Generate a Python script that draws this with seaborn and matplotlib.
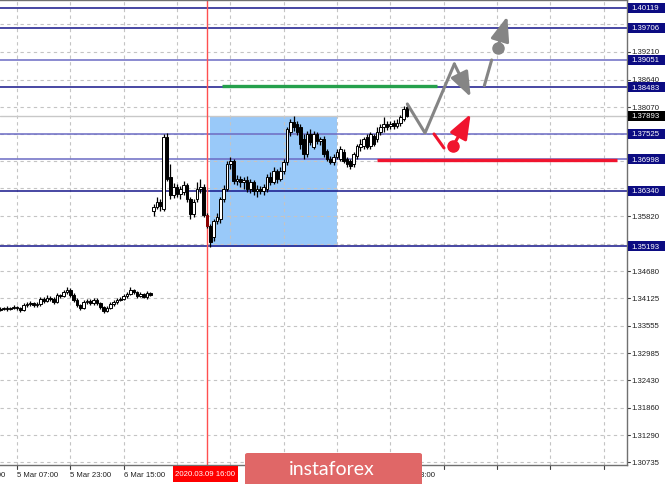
import numpy as np
import pandas as pd
import matplotlib
matplotlib.use("Agg")
import matplotlib.pyplot as plt
import seaborn as sns
from matplotlib.patches import Rectangle, FancyBboxPatch

sns.set_style("white")
plt.rcParams['font.family'] = ['Liberation Sans', 'DejaVu Sans']

# ---------------- data (H1 bars, index = bar number) ----------------
OPEN = [1.3388,1.3390,1.3392,1.3390,1.3392,1.3394,1.3392,1.3388,1.3398,1.3400,
        1.3402,1.3398,1.3400,1.3411,1.3407,1.3413,1.3411,1.3405,1.3419,1.3417,
        1.3425,1.3429,1.3419,1.3409,1.3398,1.3392,1.3405,1.3407,1.3402,1.3409,
        1.3402,1.3394,1.3386,1.3392,1.3400,1.3405,1.3409,1.3411,1.3417,1.3421,
        1.3429,1.3425,1.3417,1.3421,1.3415,1.3423,
        1.3593,1.3601,1.3611,1.3597,1.3745,1.3663,1.3626,1.3642,1.3628,1.3632,
        1.3646,1.3617,1.3586,1.3617,1.3638,1.3642,1.3584,1.3562,1.3539,1.3572,
        1.3576,1.3617,1.3638,1.3690,1.3696,1.3654,1.3659,1.3652,1.3657,1.3638,
        1.3652,1.3634,1.3638,1.3634,1.3638,1.3663,1.3652,1.3675,1.3659,1.3675,
        1.3694,1.3756,1.3776,1.3772,1.3766,1.3741,1.3710,1.3752,1.3725,1.3752,
        1.3737,1.3741,1.3716,1.3700,1.3694,1.3704,1.3700,1.3714,1.3700,1.3696,
        1.3690,1.3706,1.3725,1.3727,1.3745,1.3727,1.3747,1.3741,1.3756,1.3766,
        1.3772,1.3768,1.3774,1.3768,1.3774,1.3783,1.3807]
HIGH = [1.3394,1.3395,1.3396,1.3395,1.3398,1.3397,1.3395,1.3402,1.3404,1.3406,
        1.3405,1.3404,1.3415,1.3414,1.3418,1.3416,1.3414,1.3424,1.3422,1.3430,
        1.3435,1.3433,1.3423,1.3412,1.3401,1.3409,1.3411,1.3410,1.3413,1.3412,
        1.3405,1.3397,1.3396,1.3404,1.3408,1.3413,1.3414,1.3421,1.3425,1.3435,
        1.3432,1.3428,1.3425,1.3424,1.3427,1.3426,
        1.3607,1.3621,1.3617,1.3752,1.3754,1.3690,1.3650,1.3648,1.3644,1.3654,
        1.3650,1.3621,1.3617,1.3652,1.3659,1.3648,1.3588,1.3566,1.3576,1.3588,
        1.3621,1.3646,1.3696,1.3704,1.3700,1.3667,1.3665,1.3663,1.3665,1.3659,
        1.3657,1.3646,1.3644,1.3648,1.3669,1.3673,1.3683,1.3679,1.3683,1.3700,
        1.3766,1.3783,1.3789,1.3778,1.3772,1.3752,1.3758,1.3762,1.3758,1.3756,
        1.3745,1.3747,1.3721,1.3706,1.3710,1.3721,1.3727,1.3721,1.3704,1.3700,
        1.3714,1.3731,1.3741,1.3745,1.3752,1.3756,1.3752,1.3766,1.3772,1.3787,
        1.3778,1.3778,1.3781,1.3783,1.3791,1.3809,1.3814]
LOW = [1.3385,1.3387,1.3386,1.3387,1.3389,1.3388,1.3384,1.3386,1.3395,1.3397,
       1.3394,1.3395,1.3397,1.3403,1.3404,1.3407,1.3401,1.3402,1.3413,1.3414,
       1.3421,1.3415,1.3405,1.3394,1.3388,1.3389,1.3401,1.3399,1.3398,1.3398,
       1.3390,1.3382,1.3383,1.3389,1.3396,1.3401,1.3406,1.3408,1.3413,1.3418,
       1.3421,1.3413,1.3414,1.3412,1.3411,1.3416,
       1.3582,1.3597,1.3593,1.3593,1.3654,1.3617,1.3619,1.3621,1.3617,1.3626,
       1.3611,1.3576,1.3580,1.3611,1.3630,1.3580,1.3557,1.3518,1.3531,1.3566,
       1.3568,1.3611,1.3634,1.3679,1.3648,1.3646,1.3642,1.3638,1.3632,1.3630,
       1.3626,1.3621,1.3628,1.3626,1.3632,1.3646,1.3648,1.3650,1.3654,1.3669,
       1.3688,1.3747,1.3758,1.3750,1.3721,1.3700,1.3704,1.3729,1.3721,1.3731,
       1.3729,1.3704,1.3696,1.3690,1.3688,1.3700,1.3696,1.3692,1.3683,1.3679,
       1.3683,1.3700,1.3716,1.3721,1.3721,1.3721,1.3727,1.3735,1.3750,1.3756,
       1.3760,1.3762,1.3762,1.3764,1.3768,1.3778,1.3787]
CLOSE = [1.3390,1.3392,1.3390,1.3392,1.3394,1.3392,1.3388,1.3398,1.3400,1.3402,
         1.3398,1.3400,1.3411,1.3407,1.3413,1.3411,1.3405,1.3419,1.3417,1.3425,
         1.3429,1.3419,1.3409,1.3398,1.3392,1.3405,1.3407,1.3402,1.3409,1.3402,
         1.3394,1.3386,1.3392,1.3400,1.3405,1.3409,1.3411,1.3417,1.3421,1.3429,
         1.3425,1.3417,1.3421,1.3415,1.3423,1.3419,
         1.3601,1.3611,1.3603,1.3745,1.3659,1.3626,1.3642,1.3628,1.3638,1.3646,
         1.3617,1.3586,1.3611,1.3638,1.3642,1.3584,1.3562,1.3528,1.3572,1.3580,
         1.3617,1.3638,1.3690,1.3696,1.3654,1.3659,1.3652,1.3657,1.3638,1.3652,
         1.3634,1.3638,1.3634,1.3642,1.3663,1.3652,1.3675,1.3659,1.3675,1.3694,
         1.3762,1.3776,1.3766,1.3756,1.3731,1.3710,1.3752,1.3735,1.3752,1.3737,
         1.3741,1.3710,1.3700,1.3694,1.3704,1.3714,1.3721,1.3696,1.3690,1.3685,
         1.3710,1.3727,1.3731,1.3741,1.3725,1.3752,1.3731,1.3756,1.3766,1.3772,
         1.3766,1.3772,1.3768,1.3774,1.3787,1.3803,1.37893]

HIGHLIGHT_BAR = 62           # bar under the vertical red line (9 Mar 16:00)
NAVY_LEVELS = [1.40119, 1.39706, 1.38483, 1.36340, 1.35193]
LIGHT_LEVELS = [1.39051, 1.37525, 1.36998]
BID = 1.37893
GRID_PRICES = [1.30735, 1.31290, 1.31860, 1.32430, 1.32985, 1.33555, 1.34125,
               1.34680, 1.35250, 1.35820, 1.36390, 1.36960, 1.37510, 1.38070,
               1.38640, 1.39210, 1.39780]
PRICE_LABELS = ["1.39210", "1.38640", "1.38070", "1.35820", "1.34680", "1.34125",
                "1.33555", "1.32985", "1.32430", "1.31860", "1.31290", "1.30735"]
TIME_POS = [-11, 5, 21, 37, 117]
TIME_LABELS = ["4 Mar 15:00", "5 Mar 07:00", "5 Mar 23:00", "6 Mar 15:00",
               "11 Mar 23:00"]
GRID_BARS = [5, 21, 37, 53, 69, 85, 101, 117, 133, 149, 165, 181]
CROSS_LABEL = "2020.03.09 16:00"

# range box and forecast marks
RANGE_BARS = [63, 101]
RANGE_PRICES = [1.35181, 1.37888]
GREEN_BARS, GREEN_PRICE = [66.5, 131], 1.38500
RED_BARS, RED_PRICE = [113, 185], 1.36970
GRAY_PATH_X = [122.1, 127.4, 136.2]
GRAY_PATH_Y = [1.38136, 1.37537, 1.38962]
GRAY_ARROW1 = [(136.2, 1.38962), (141.1, 1.38280)]
GRAY_LINE2_X = [145.2, 147.4]
GRAY_LINE2_Y = [1.38514, 1.39045]
GRAY_DOT = (149.2, 1.39293)
GRAY_ARROW2 = [(149.2, 1.39293), (152.1, 1.39948)]
RED_LINE_X = [130.1, 133.1]
RED_LINE_Y = [1.37516, 1.37227]
RED_DOT = (135.9, 1.37274)
RED_ARROW = [(135.9, 1.37274), (141.1, 1.37929)]

# ---------------- figure ----------------
W, H = 665, 485
fig = plt.figure(figsize=(W / 100, H / 100), dpi=100)
fig.patch.set_facecolor("white")
ax = fig.add_axes([0, 19 / H, 627 / W, 465 / H])
XLIM = (-0.1, 188.0)
YLIM = (1.30677, 1.40284)
ax.set_xlim(*XLIM)
ax.set_ylim(*YLIM)
ppx = (YLIM[1] - YLIM[0]) / 465.0   # price per pixel

df = pd.DataFrame({"bar": np.arange(len(OPEN)), "o": OPEN, "h": HIGH,
                   "l": LOW, "c": CLOSE})

grid_kw = dict(color="#c4c4c4", lw=0.8, linestyles=(0, (3, 3)), zorder=1)
ax.vlines(GRID_BARS, YLIM[0], YLIM[1], **grid_kw)
ax.hlines(GRID_PRICES, XLIM[0], XLIM[1], **grid_kw)

ax.add_patch(Rectangle((RANGE_BARS[0], RANGE_PRICES[0]),
                       RANGE_BARS[1] - RANGE_BARS[0],
                       RANGE_PRICES[1] - RANGE_PRICES[0],
                       facecolor="#99c9f9", edgecolor="none", zorder=0.8))

for lv in NAVY_LEVELS:
    ax.axhline(lv, color="#16168a", lw=1.1, zorder=2)
for lv in LIGHT_LEVELS:
    ax.axhline(lv, color="#6b6bc4", lw=1.1, zorder=2)
ax.axhline(BID, color="#c8c8c8", lw=1.0, zorder=1.9)

ax.axvline(HIGHLIGHT_BAR, color="#ff5050", lw=1.0, zorder=2.2)

# candles
ax.vlines(df["bar"], df["l"], df["h"], color="black", lw=0.9, zorder=3)
bull = df["c"] >= df["o"]
body_lo = np.minimum(df["o"], df["c"])
body_h = np.maximum(np.abs(df["c"] - df["o"]), 0.00004)
colors = np.where(bull, "white", "black").astype(object)
colors[HIGHLIGHT_BAR] = "#8b0000"
edges = np.array(["black"] * len(df), dtype=object)
edges[HIGHLIGHT_BAR] = "#8b0000"
ax.bar(df["bar"], body_h, bottom=body_lo, width=0.78, color=list(colors),
       edgecolor=list(edges), linewidth=0.7, zorder=4)

# green and red horizontal marks
ax.plot(GREEN_BARS, [GREEN_PRICE] * 2, color="#25a04c", lw=2.4,
        solid_capstyle="butt", zorder=5)
ax.plot(RED_BARS, [RED_PRICE] * 2, color="#f0142e", lw=2.4,
        solid_capstyle="butt", zorder=5)

GRAY = "#858585"
RED = "#f0142e"
sns.lineplot(x=GRAY_PATH_X, y=GRAY_PATH_Y, sort=False, estimator=None,
             color=GRAY, lw=2.2, ax=ax, zorder=6)
sns.lineplot(x=GRAY_LINE2_X, y=GRAY_LINE2_Y, sort=False, estimator=None,
             color=GRAY, lw=2.2, ax=ax, zorder=6)
sns.lineplot(x=RED_LINE_X, y=RED_LINE_Y, sort=False, estimator=None,
             color=RED, lw=2.2, ax=ax, zorder=6)

def arrow(p0, p1, col):
    ax.annotate("", xy=p1, xytext=p0, zorder=7,
                arrowprops=dict(arrowstyle="-|>,head_length=1.0,head_width=0.38",
                                color=col, lw=2.2, mutation_scale=15,
                                shrinkA=0, shrinkB=0))

arrow(*GRAY_ARROW1, GRAY)
arrow(*GRAY_ARROW2, GRAY)
arrow(*RED_ARROW, RED)
ax.plot([GRAY_DOT[0]], [GRAY_DOT[1]], "o", ms=8, color=GRAY, zorder=7)
ax.plot([RED_DOT[0]], [RED_DOT[1]], "o", ms=8, color=RED, zorder=7)

# spines
ax.spines["left"].set_visible(False)
for s in ["top", "right", "bottom"]:
    ax.spines[s].set_color("#707070")
    ax.spines[s].set_linewidth(1.0)
ax.set_xticks([])
ax.set_yticks([])

# right price scale
ytr = ax.get_yaxis_transform()
FS = 5.6
for lab in PRICE_LABELS:
    v = float(lab)
    ax.plot([1.0, 1.005], [v, v], color="#404040", lw=0.8, transform=ytr,
            clip_on=False)
    ax.text(1.0075, v, lab, transform=ytr, fontsize=FS, color="#202020",
            va="center", ha="left", clip_on=False)

def level_box(v, fc):
    ax.add_patch(Rectangle((1.0016, v - 5 * ppx), 0.07, 10 * ppx,
                           transform=ytr, facecolor=fc, edgecolor="none",
                           clip_on=False, zorder=10))
    ax.text(1.0075, v, f"{v:.5f}", transform=ytr, fontsize=FS, color="white",
            va="center", ha="left", clip_on=False, zorder=11)

for lv in NAVY_LEVELS + LIGHT_LEVELS:
    level_box(lv, "#0c0c82")
level_box(BID, "#000000")

# time scale
xtr = ax.get_xaxis_transform()
for p in GRID_BARS:
    ax.plot([p, p], [0, -4 / 465], color="#404040", lw=0.8, transform=xtr,
            clip_on=False)
for p, lab in zip(TIME_POS, TIME_LABELS):
    ax.text(p, -9.5 / 465, lab, transform=xtr, fontsize=FS, color="#202020",
            ha="left", va="center", clip_on=False)

# crosshair time label
ax.add_patch(Rectangle((51.8, -16.5 / 465), 19.5, 15.5 / 465, transform=xtr,
                       facecolor="#ff0000", edgecolor="none", clip_on=False,
                       zorder=10))
ax.text(HIGHLIGHT_BAR - 0.5, -9.0 / 465, CROSS_LABEL, transform=xtr,
        fontsize=FS, color="white", ha="center", va="center", clip_on=False,
        zorder=11)

# watermark logo
fig.patches.append(FancyBboxPatch((245 / W, -6 / H), 177 / W, 37 / H,
                                  boxstyle="round,pad=0,rounding_size=0.004",
                                  transform=fig.transFigure,
                                  facecolor="#e06767", edgecolor="none",
                                  zorder=20))
fig.text(332 / W, 10 / H, "instaforex", fontsize=14, color="white",
         family=["Lato", "DejaVu Sans"], ha="center", va="baseline", zorder=21)

fig.savefig("out.png", dpi=100)
